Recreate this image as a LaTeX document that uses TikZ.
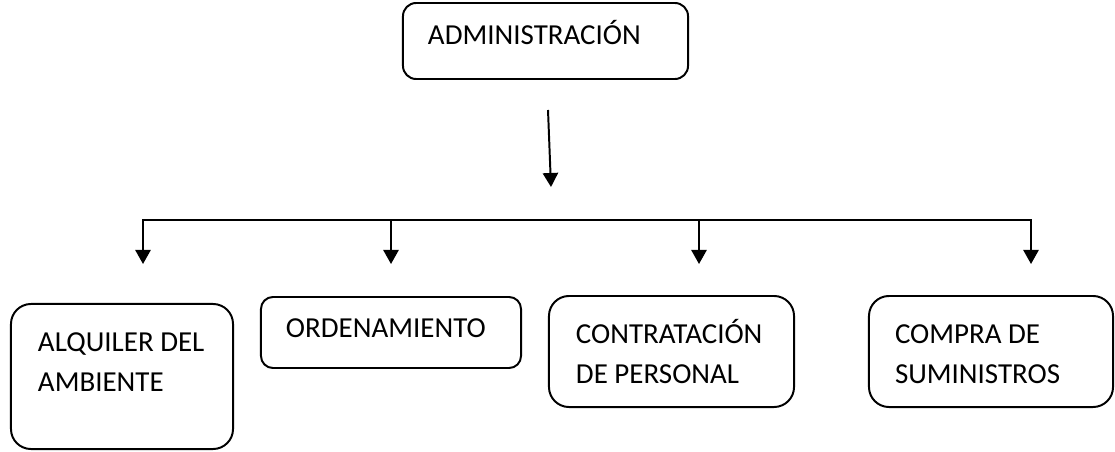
\documentclass[tikz,border=0pt]{standalone}
\usepackage{fontspec}
\setmainfont{Carlito}
\usetikzlibrary{arrows.meta}

\begin{document}
\begin{tikzpicture}[
        x=0.025cm,
        y=-0.025cm,
        line width=1.4pt,
        font=\fontsize{20.6}{24}\selectfont,
        box/.style={draw=black, inner sep=0pt, rounded corners=#1},
        box/.default=0.5cm,
        txt/.style={anchor=base west, inner sep=0pt},
        arr/.style={-{Triangle[width=0.38cm,length=0.35cm]}},
        arrs/.style={{Triangle[width=0.38cm,length=0.35cm]}-{Triangle[width=0.38cm,length=0.35cm]}}]

        \useasboundingbox (0,0) rectangle (1115,452);

        % NODES
        % top box
        \node[box=0.33cm, minimum width=7.125cm, minimum height=1.9cm] (adm) at (545.5,41) {};
        \node[txt] (admtxt) at (427,45) {ADMINISTRACIÓN};
        % box 1
        \node[box, minimum width=5.55cm, minimum height=3.625cm] (alq) at (122,376.5) {};
        \node[txt] (alqa) at (37,351) {ALQUILER DEL};
        \node[txt] (alqb) at (37,391) {AMBIENTE};
        % box 2
        \node[box=0.3cm, minimum width=6.5cm, minimum height=1.775cm] (ord) at (391,332.5) {};
        \node[txt] (ordtxt) at (285,337) {ORDENAMIENTO};
        % box 3
        \node[box, minimum width=6.125cm, minimum height=2.775cm] (con) at (671.5,351.5) {};
        \node[txt] (cona) at (575,343) {CONTRATACIÓN};
        \node[txt] (conb) at (575,383) {DE PERSONAL};
        % box 4
        \node[box, minimum width=6.1cm, minimum height=2.775cm] (com) at (991,351.5) {};
        \node[txt] (coma) at (894,343) {COMPRA DE};
        \node[txt] (comb) at (894,383) {SUMINISTROS};

        % ARROWS
        \coordinate (s) at (548,110);
        \coordinate (e) at (551,187);
        \draw[arr] (s)--(e);
        \foreach \i/\x in {1/143,2/391,3/699,4/1031} {
            \coordinate (b\i) at (\x,220);
            \coordinate (d\i) at (\x,264);
        }
        \draw[arrs] (d1)--(b1)--(b4)--(d4);
        \draw[arr] (b2)--(d2);
        \draw[arr] (b3)--(d3);
\end{tikzpicture}
\end{document}
